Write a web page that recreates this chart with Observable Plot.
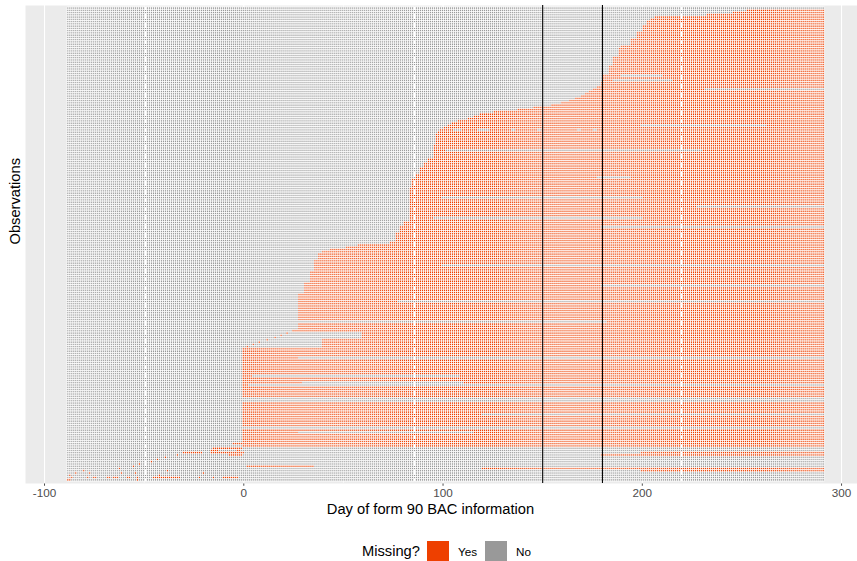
<!DOCTYPE html>
<html><head><meta charset="utf-8">
<script src="https://cdn.jsdelivr.net/npm/d3@7"></script>
<script src="https://cdn.jsdelivr.net/npm/@observablehq/plot@0.6"></script>
<style>
body{margin:0;background:#fff;font-family:"Liberation Sans",Arial,sans-serif;}
#wrap{width:857px;height:561px;position:relative;overflow:hidden;background:#fff}
#wrap svg{display:block}
#legend{position:absolute;left:362px;top:541px;height:20px;display:flex;align-items:center;font-family:"Liberation Sans",Arial,sans-serif}
#legend .title{font-size:14.7px;color:#000;margin-right:7px}
#legend .key{width:22px;height:20px;margin-right:9px}
#legend .lab{font-size:11.7px;color:#000;margin-right:8px}
</style></head><body><div id="wrap"></div>
<script>
// ---- data ----
const nRows = 210;               // observations, top to bottom
const dayFirst = -88, dayLast = 291;
// [fromRow, toRow, first missing day] — main missing run lasts to dayLast
const startSteps = [
[1,1,253],[2,2,246],[3,3,233],[4,4,207],[5,5,205],[6,7,203],[8,10,201],[11,13,198],[14,16,195],[17,17,190],
[18,21,189],[22,25,186],[26,29,184],[30,32,181],[33,34,180],[35,35,178],[36,36,176],[37,37,174],[38,38,172],
[39,39,170],[40,40,167],[41,41,164],[42,42,160],[43,43,155],[44,44,146],[45,45,138],[46,46,126],[47,47,119],
[48,48,116],[49,49,113],[50,50,108],[51,51,105],[52,52,103],[53,53,101],[54,54,99],[55,55,98],[56,60,97],
[61,66,96],[67,68,93],[69,70,91],[71,73,89],[74,75,87],[76,79,85],[80,94,84],[95,96,81],[97,99,79],
[100,103,77],[104,104,74],[105,105,58],[106,106,52],[107,107,44],[108,108,40],[109,111,38],[112,116,36],
[117,121,34],[122,126,31],[127,142,28],[143,143,25],[144,146,60],[147,150,40],[151,192,0]
];
// [row, fromDay, toDay] — observed (not missing) spans inside a missing run
const gapSpans = [
[30,190,210],[32,186,215],[36,232,291],[52,200,262],
[54,106,109],[54,118,123],[54,135,136],[54,148,149],[54,168,169],[54,176,177],
[63,102,230],[75,178,194],[84,100,200],[88,228,291],[93,96,200],[97,180,291],
[114,100,291],[123,180,291],[130,78,291],[139,28,182],[155,28,291],[163,5,108],[166,30,110],
[167,3,291],[173,0,291],[174,0,291],[180,120,291],[186,0,291],[188,28,115]
];
// [row, fromDay, toDay] — isolated missing spans
const extraSpans = [
[144,22,22],[145,19,19],[146,16,16],[147,12,12],[148,8,8],[149,5,5],[150,2,2],
[193,-5,291],[194,0,291],[195,-15,-1],[196,-16,-13],[196,-3,-2],[197,-30,-21],[197,-16,0],[197,200,291],
[198,-33,-33],[198,-7,-1],[198,180,291],[199,-39,-39],[200,-43,-43],[201,-46,-46],[202,-52,-52],
[203,-55,-55],[203,2,35],[204,-62,-62],[204,120,291],[205,-80,-80],[205,-38,-38],[205,200,291],
[206,-84,-84],[206,-77,-77],[206,-61,-61],[206,-54,-54],[206,-20,-20],[207,-87,-87],[207,-42,-42],
[208,-86,-86],[208,-78,-78],[208,-75,-74],[208,-68,-67],[208,-65,-63],[208,-58,-57],[208,-53,-53],
[208,-45,-32],[208,-22,-22],[208,-15,-15],[208,-10,-3],[209,-88,-87],[209,-53,-53]
];
const xTicks = [-100, 0, 100, 200, 300];
const xMinor = [-50, 50, 150, 250];
const vlineDays = [150, 180];
const missingLabels = ["Yes", "No"];
const missingColors = ["#EE4000", "#999999"];
const xTitle = "Day of form 90 BAC information";
const yTitle = "Observations";
const legendTitle = "Missing?";

// ---- build the tile table ----
const nDays = dayLast - dayFirst + 1;
const grid = Array.from({length: nRows}, () => new Uint8Array(nDays));
const setSpan = (r, a, b, v) => {
  for (let d = Math.max(a, dayFirst); d <= Math.min(b, dayLast); d++) grid[r][d - dayFirst] = v;
};
for (const [a, b, s] of startSteps) for (let r = a; r <= b; r++) setSpan(r, s, dayLast, 1);
for (const [r, a, b] of gapSpans) setSpan(r, a, b, 0);
for (const [r, a, b] of extraSpans) setSpan(r, a, b, 1);
const cells = [];
for (let r = 0; r < nRows; r++)
  for (let i = 0; i < nDays; i++)
    cells.push({row: r, day: dayFirst + i, missing: grid[r][i] ? missingLabels[0] : missingLabels[1]});

const plot = Plot.plot({
  width: 857, height: 522,
  marginLeft: 25, marginRight: 0, marginTop: 5, marginBottom: 39,
  x: {domain: [-109.55, 308.0], ticks: xTicks, tickSize: 2.75, tickPadding: 2.5, tickFormat: d => String(d), label: null},
  y: {type: "band", domain: d3.range(nRows), range: [7, 481], padding: 0, axis: null},
  color: {domain: missingLabels, range: missingColors},
  style: {fontFamily: "Liberation Sans, Arial, sans-serif", fontSize: "11.7px", color: "#4D4D4D", background: "white"},
  marks: [
    Plot.frame({fill: "#EBEBEB", stroke: "none"}),
    Plot.ruleX(xMinor, {stroke: "white", strokeWidth: 0.53}),
    Plot.ruleX(xTicks, {stroke: "white", strokeWidth: 1.07}),
    Plot.barX(cells, {x1: d => d.day - 0.5, x2: d => d.day + 0.5, y: "row", fill: "missing", stroke: "white", strokeWidth: 0.7}),
    Plot.ruleX(vlineDays, {stroke: "black", strokeWidth: 1.07}),
    Plot.text([xTitle], {text: d => d, frameAnchor: "bottom", dx: -11, dy: 30, fontSize: 14.7, fill: "black"}),
    Plot.text([yTitle], {text: d => d, frameAnchor: "left", dx: -10, rotate: -90, fontSize: 14.7, fill: "black"})
  ]
});
const wrap = document.getElementById("wrap");
wrap.appendChild(plot);

// legend below the chart
const lg = document.createElement("div");
lg.id = "legend";
let html = `<span class="title">${legendTitle}</span>`;
missingLabels.forEach((l, i) => {
  html += `<span class="key" style="background:${missingColors[i]}"></span><span class="lab">${l}</span>`;
});
lg.innerHTML = html;
wrap.appendChild(lg);
</script></body></html>
